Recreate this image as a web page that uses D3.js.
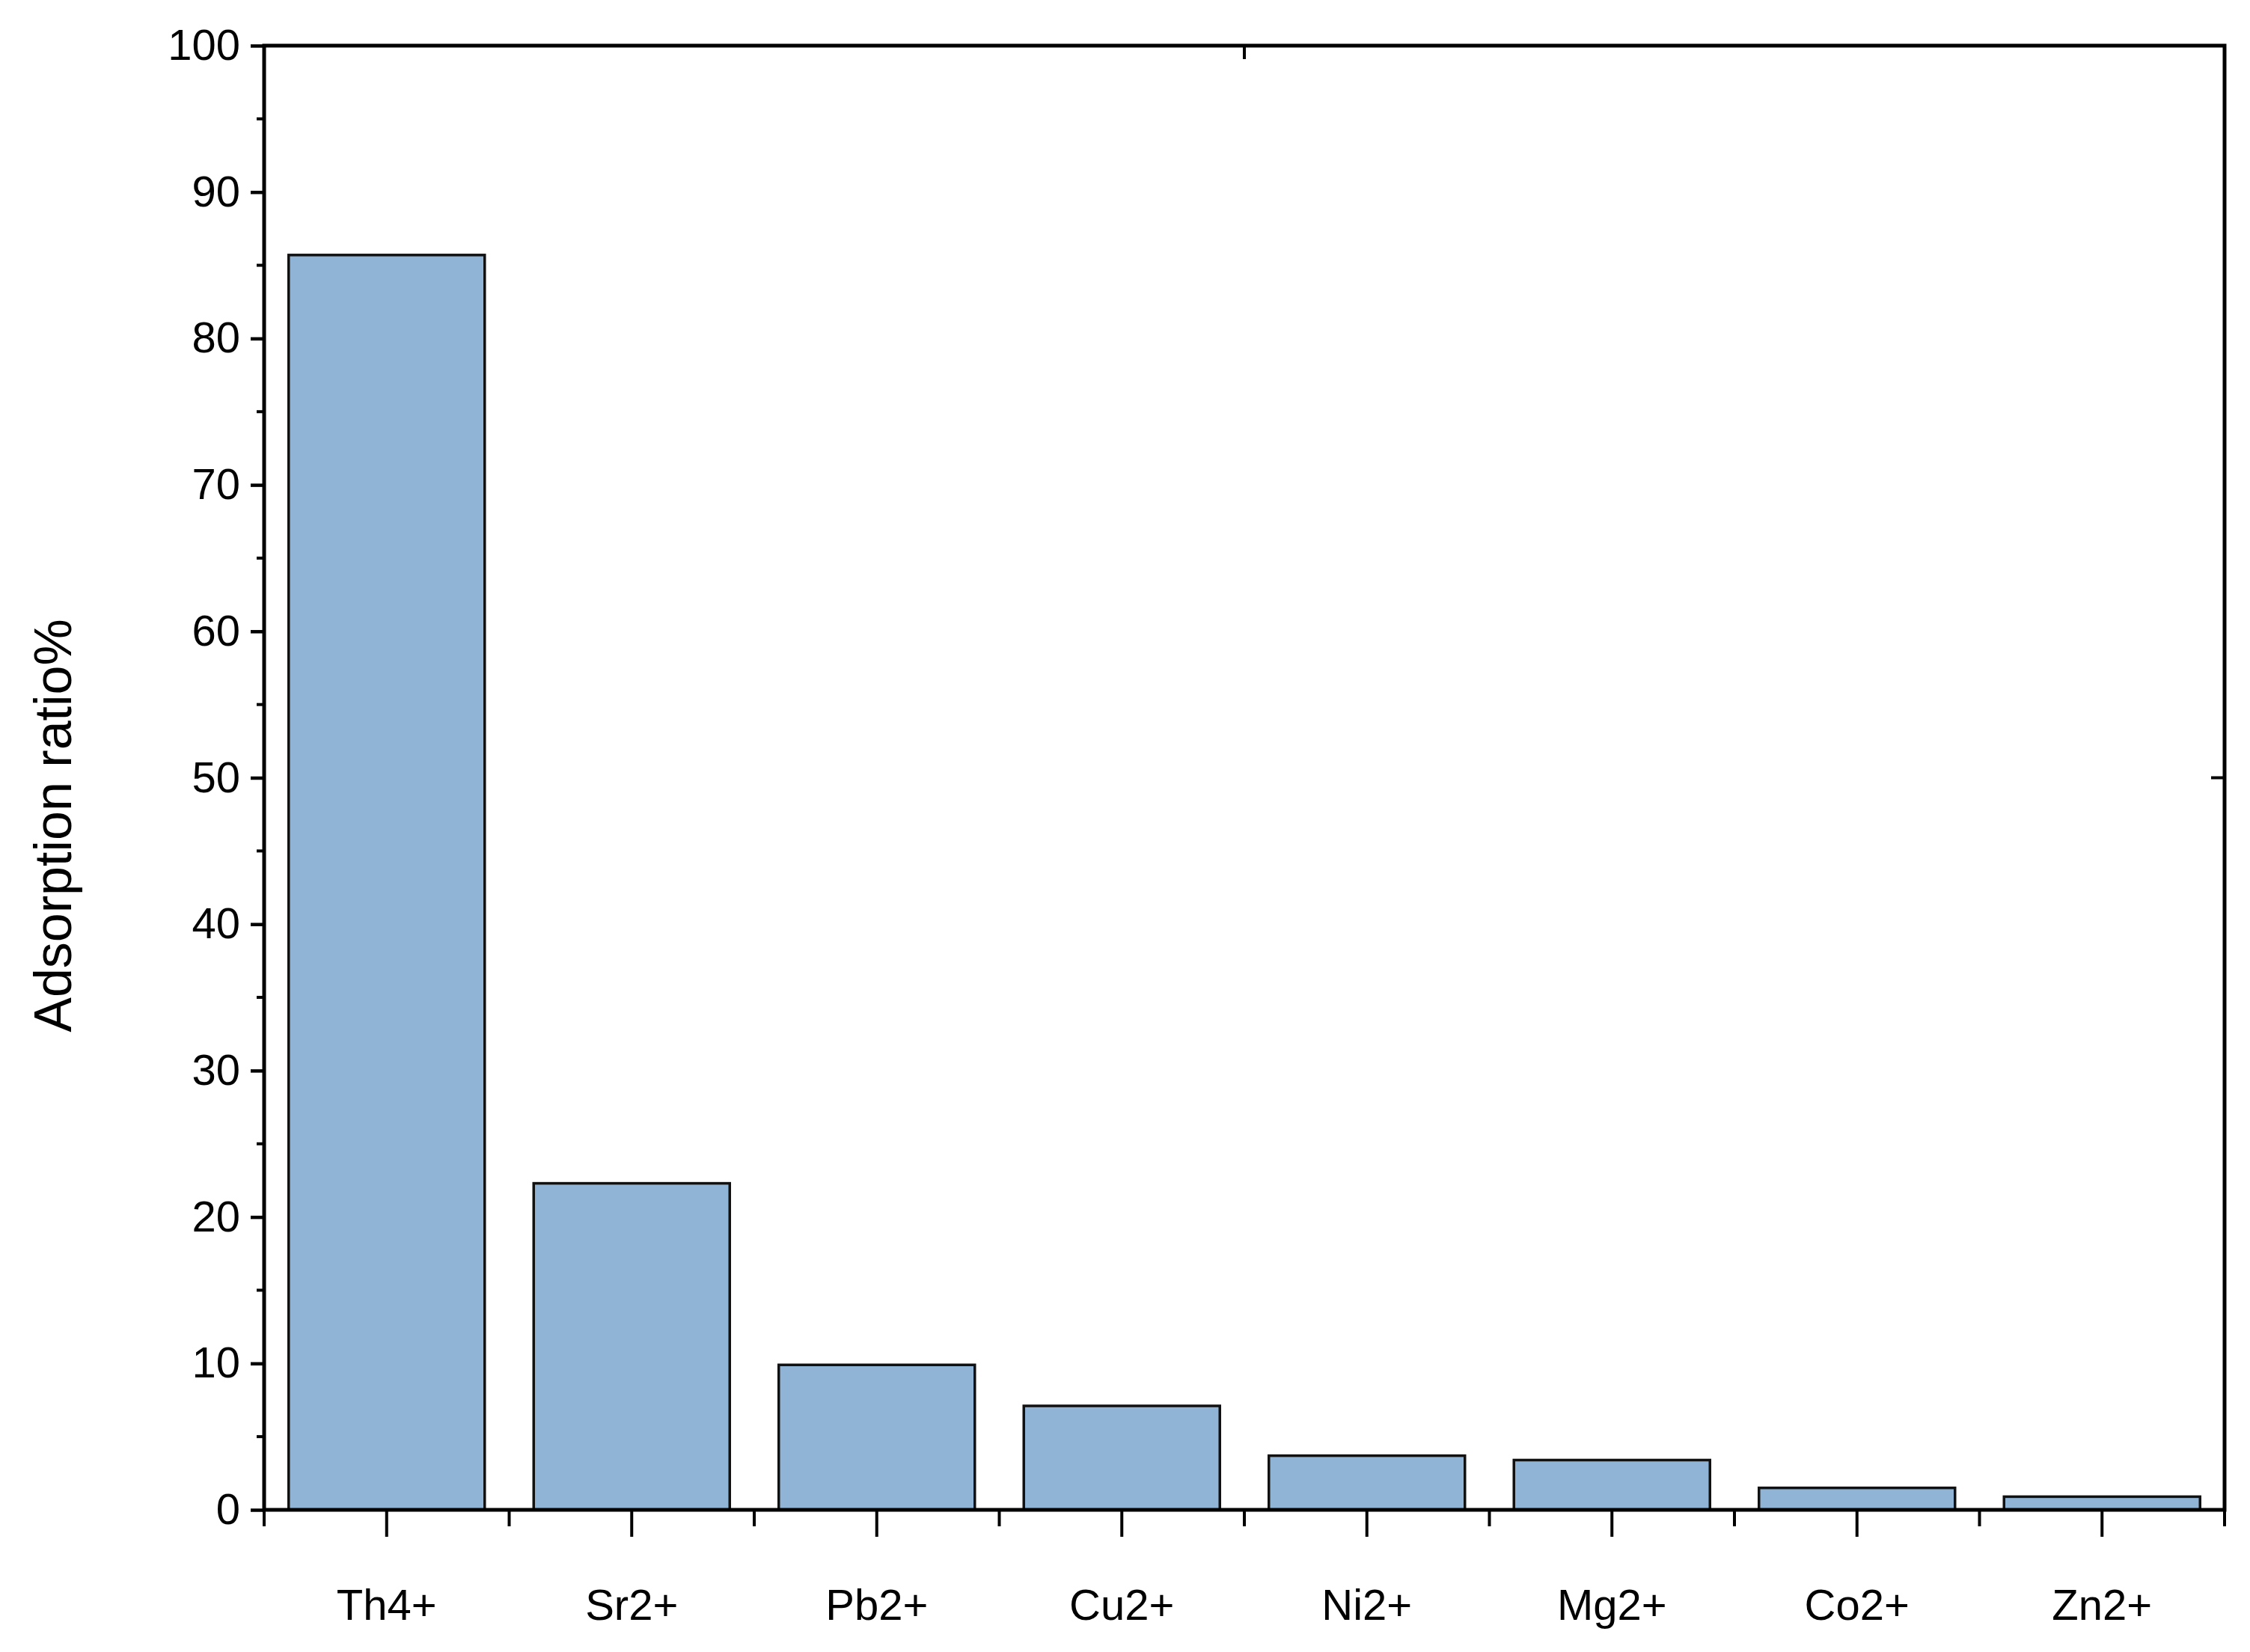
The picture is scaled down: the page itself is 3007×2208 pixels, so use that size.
<!DOCTYPE html>
<html><head><meta charset="utf-8">
<script src="https://cdn.jsdelivr.net/npm/d3@7"></script>
<style>body{margin:0;background:#fff}text{font-family:"Liberation Sans",Arial,sans-serif}</style>
</head><body><svg id="c" width="3007" height="2208"></svg>
<script>
const categories=["Th4+","Sr2+","Pb2+","Cu2+","Ni2+","Mg2+","Co2+","Zn2+"];
const values=[85.7,22.3,9.9,7.1,3.7,3.4,1.5,0.9];
const yTicks=[0,10,20,30,40,50,60,70,80,90,100];
const L=353,R=2973,T=61,B=2018;
const svg=d3.select("#c");
const x=d3.scaleBand().domain(categories).range([L,R]).paddingInner(0.2).paddingOuter(0.1);
const xb=d3.scaleBand().domain(categories).range([L,R]);
const y=d3.scaleLinear().domain([0,100]).range([B,T]);
svg.selectAll("rect.bar").data(values).join("rect").attr("class","bar")
 .attr("x",(d,i)=>x(categories[i])).attr("width",x.bandwidth())
 .attr("y",d=>y(d)).attr("height",d=>B-y(d))
 .attr("fill","#8fb4d6").attr("stroke","#111").attr("stroke-width",3.5);
// frame
svg.append("rect").attr("x",L).attr("y",T).attr("width",R-L).attr("height",B-T).attr("fill","none").attr("stroke","#000").attr("stroke-width",5);
// y axis
const ya=svg.append("g").attr("transform",`translate(${L},0)`).call(d3.axisLeft(y).tickValues(yTicks).tickSize(18).tickPadding(14));
ya.select(".domain").remove();
ya.selectAll("line").attr("stroke-width",4.5);
ya.selectAll("text").attr("font-size",58).attr("fill","#000");
const minorY=d3.range(5,100,10);
svg.selectAll("line.my").data(minorY).join("line").attr("x1",L-10).attr("x2",L).attr("y1",d=>y(d)).attr("y2",d=>y(d)).attr("stroke","#000").attr("stroke-width",4);
// x axis
const xa=svg.append("g").attr("transform",`translate(0,${B})`).call(d3.axisBottom(x).tickSize(36).tickPadding(70));
xa.select(".domain").remove();
xa.selectAll("line").attr("stroke-width",4);
xa.selectAll("text").attr("font-size",58).attr("fill","#000");
const bounds=categories.map(c=>xb(c)).concat([R]);
svg.selectAll("line.mx").data(bounds).join("line").attr("x1",d=>d).attr("x2",d=>d).attr("y1",B).attr("y2",B+22).attr("stroke","#000").attr("stroke-width",4);
// opposite ticks
svg.append("line").attr("x1",(L+R)/2).attr("x2",(L+R)/2).attr("y1",T).attr("y2",T+18).attr("stroke","#000").attr("stroke-width",4);
svg.append("line").attr("x1",R-18).attr("x2",R).attr("y1",y(50)).attr("y2",y(50)).attr("stroke","#000").attr("stroke-width",4);
svg.append("text").attr("transform",`translate(95,${(T+B)/2+64}) rotate(-90)`).attr("text-anchor","middle").attr("font-size",70).text("Adsorption ratio%");
</script></body></html>
